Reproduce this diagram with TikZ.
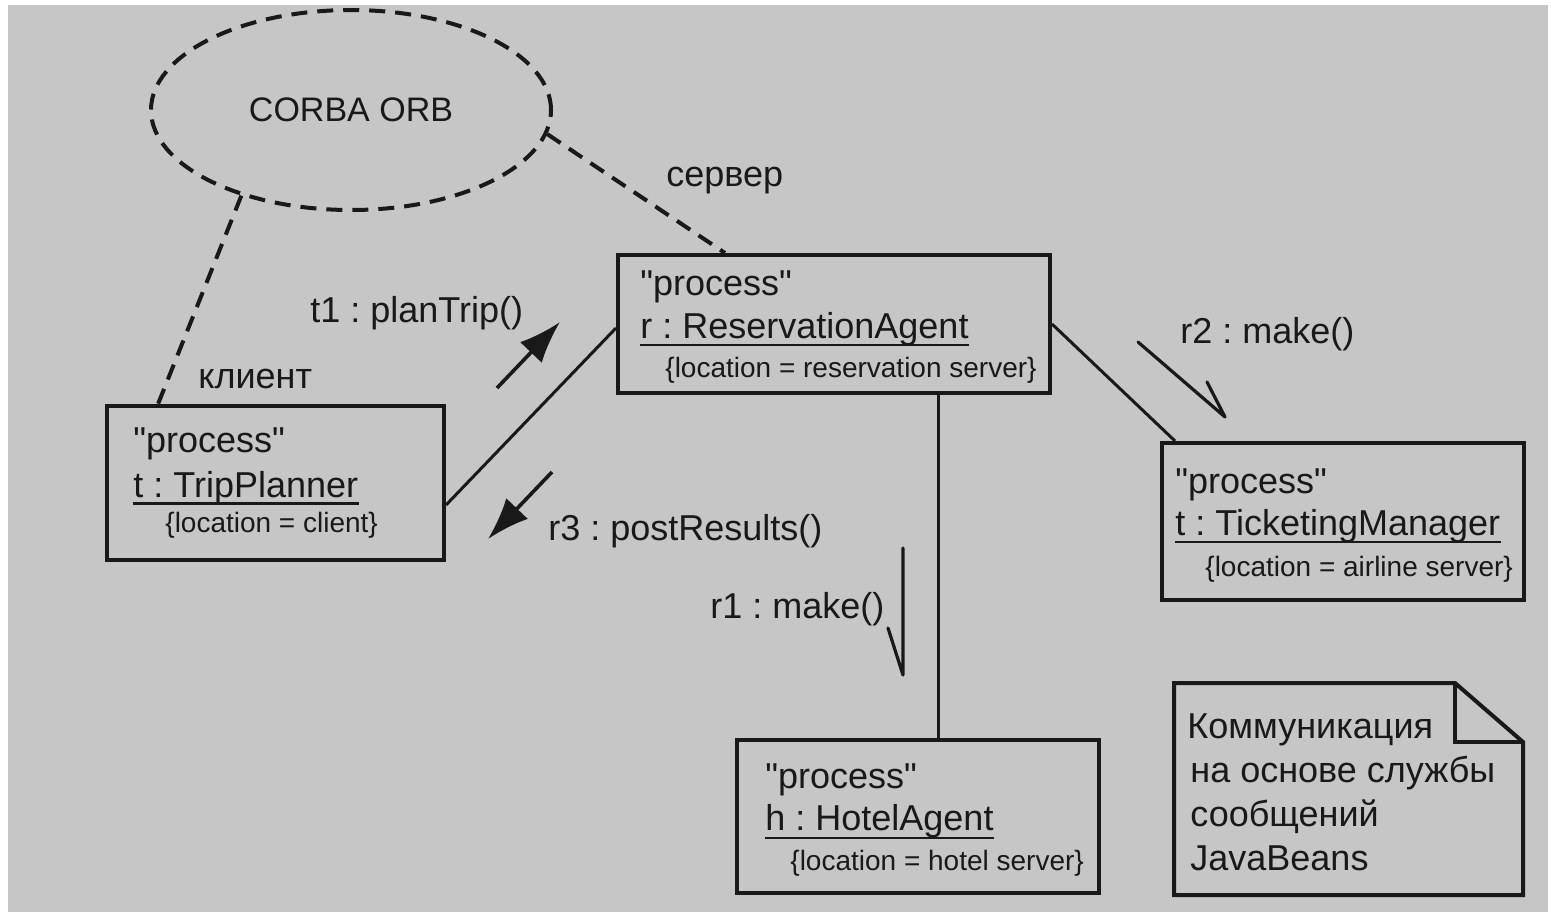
\documentclass[tikz,border=0pt]{standalone}
\usepackage{fontspec}
\setmainfont{Liberation Sans}[Ligatures=TeXOff]
\usetikzlibrary{arrows.meta,shapes.geometric,calc}
\definecolor{bg}{RGB}{198,198,198}
\definecolor{ink}{RGB}{25,25,25}
\frenchspacing
\begin{document}
\begin{tikzpicture}[x=0.5pt,y=-0.5pt,
 box/.style={draw=ink,line width=2pt,rectangle,inner sep=0},
 txt/.style={font=\fontsize{18}{20}\selectfont,anchor=base west,inner sep=0,text=ink},
 loctxt/.style={font=\fontsize{14}{16}\selectfont,anchor=base west,inner sep=0,text=ink},
 conn/.style={draw=ink,line width=1.5pt},
 dconn/.style={draw=ink,line width=2pt,dash pattern=on 8pt off 5pt},
 uline/.style={draw=ink,line width=1.2pt},
 fat/.style={draw=ink,line width=1.8pt,-{Latex[length=21pt,width=15pt]}},
 half/.style={draw=ink,line width=1.6pt,line cap=round,line join=round}]
\fill[white] (0,0) rectangle (1551,917);
\fill[bg] (8,5) rectangle (1548,912);
\useasboundingbox (0,0) rectangle (1551,917);

% CORBA ORB
\node[ellipse,draw=ink,line width=2pt,dash pattern=on 8pt off 5pt,minimum width=200pt,minimum height=100pt,inner sep=0,text=ink,font=\fontsize{17}{20}\selectfont] (orb) at (351,110) {CORBA ORB};

% boxes
\node[box,minimum width=168.5pt,minimum height=77pt] (tp) at (275.5,483) {};
\node[box,minimum width=216pt,minimum height=69pt] (ra) at (834,324) {};
\node[box,minimum width=181pt,minimum height=78.5pt] (tm) at (1343,521.5) {};
\node[box,minimum width=181pt,minimum height=76.5pt] (ha) at (918,816.5) {};

% TripPlanner
\node[txt] (tpst) at (133,452) {"process"};
\node[txt] (tpnm) at (133,497) {t : TripPlanner};
\draw[uline] ([yshift=-3.2pt]tpnm.base west) -- ([yshift=-3.2pt]tpnm.base east);
\node[loctxt] (tploc) at (165,532) {\{location = client\}};

% ReservationAgent
\node[txt] (rast) at (640,295) {"process"};
\node[txt] (ranm) at (640,338) {r : ReservationAgent};
\draw[uline] ([yshift=-3.4pt]ranm.base west) -- ([yshift=-3.4pt]ranm.base east);
\node[loctxt] (raloc) at (665,377) {\{location = reservation server\}};

% TicketingManager
\node[txt] (tmst) at (1175,493) {"process"};
\node[txt] (tmnm) at (1175,535) {t : TicketingManager};
\draw[uline] ([yshift=-3.4pt]tmnm.base west) -- ([yshift=-3.4pt]tmnm.base east);
\node[loctxt] (tmloc) at (1205,576) {\{location = airline server\}};

% HotelAgent
\node[txt] (hast) at (765,788) {"process"};
\node[txt] (hanm) at (765,830) {h : HotelAgent};
\draw[uline] ([yshift=-4pt]hanm.base west) -- ([yshift=-4pt]hanm.base east);
\node[loctxt] (haloc) at (790,870) {\{location = hotel server\}};

% note
\draw[box] (1174,683) -- (1455,683) -- (1523,742) -- (1523,895) -- (1174,895) -- cycle;
\draw[box] (1455,683) -- (1455,742) -- (1523,742);
\node[txt] (n1) at (1187,738) {Коммуникация};
\node[txt] (n2) at (1190,782) {на основе службы};
\node[txt] (n3) at (1190,826) {сообщений};
\node[txt] (n4) at (1190,870) {JavaBeans};

% dashed links
\draw[dconn] (orb.218) -- ([xshift=26.5pt]tp.north west);
\draw[dconn] (orb.353) -- ([xshift=54.5pt]ra.north west);
\node[txt] (kl) at (198,388) {клиент};
\node[txt] (sv) at (666,186) {сервер};

% solid links
\draw[conn] ([yshift=-11pt]tp.east) -- ([yshift=-2pt]ra.west);
\draw[conn] (ra.east) -- ([xshift=7.5pt]tm.north west);
\draw[conn] ([xshift=52pt]ra.south) -- ([xshift=52pt]ra.south |- ha.north);

% messages
\coordinate (t1a) at (497,388); \coordinate (t1b) at (560,322);
\draw[fat] (t1a) -- (t1b);
\node[txt] (t1l) at (310,322) {t1 : planTrip()};

\coordinate (r3a) at (552,472); \coordinate (r3b) at (488,539);
\draw[fat] (r3a) -- (r3b);
\node[txt] (r3l) at (548,540) {r3 : postResults()};

\coordinate (r2a) at (1138,342); \coordinate (r2b) at (1225,417); \coordinate (r2c) at (1207,382);
\draw[half] (r2a) -- (r2b) -- (r2c);
\node[txt] (r2l) at (1180,343) {r2 : make()};

\coordinate (r1a) at (903,548); \coordinate (r1b) at (903,675); \coordinate (r1c) at (888,628);
\draw[half] (r1a) -- (r1b) -- (r1c);
\node[txt] (r1l) at (710,618) {r1 : make()};
\end{tikzpicture}
\end{document}
